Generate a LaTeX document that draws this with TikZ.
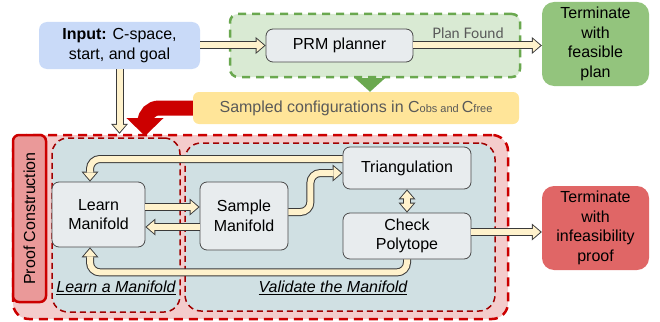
\documentclass[tikz,border=0pt]{standalone}
\usepackage{fontspec}
\setmainfont{Liberation Sans}
\newfontfamily\lato{Lato}
\usetikzlibrary{arrows.meta}

\definecolor{inputblue}{HTML}{C9DAF8}
\definecolor{planbg}{HTML}{D9EAD3}
\definecolor{plangreen}{HTML}{6AA84F}
\definecolor{okgreen}{HTML}{93C47D}
\definecolor{boxfill}{HTML}{E8ECEE}
\definecolor{boxedge}{HTML}{4A4A4A}
\definecolor{sampyellow}{HTML}{FFE599}
\definecolor{textgray}{HTML}{595959}
\definecolor{bigred}{HTML}{CC0000}
\definecolor{darkred}{HTML}{A00000}
\definecolor{pinkbg}{HTML}{F4CCCC}
\definecolor{proofpink}{HTML}{EA9999}
\definecolor{regionbg}{HTML}{D0E0E3}
\definecolor{badred}{HTML}{E06666}
\definecolor{cream}{HTML}{FFF2CC}
\definecolor{pipeedge}{HTML}{3A3A3A}

\begin{document}
\begin{tikzpicture}[x=1pt,y=-1pt,
  every node/.style={font=\fontsize{16}{19.5}\selectfont, align=center, inner sep=0pt},
  box/.style={draw=boxedge, line width=0.8pt, fill=boxfill, rounded corners=7pt},
  region/.style={draw=darkred, line width=1.5pt, dash pattern=on 6pt off 4pt, fill=regionbg, rounded corners=16pt},
  pipe/.style={line width=8pt, draw=pipeedge, rounded corners=10pt,
    -{Triangle[length=10pt,width=17pt,line width=0pt]},
    postaction={draw=cream, line width=6pt, shorten >=1.5pt,
      -{Triangle[length=7.5pt,width=13pt,line width=0pt]}}},
  twopipe/.style={line width=8pt, draw=pipeedge,
    {Triangle[length=10pt,width=17pt,line width=0pt]}-{Triangle[length=10pt,width=17pt,line width=0pt]},
    postaction={draw=cream, line width=6pt, shorten >=1.5pt, shorten <=1.5pt,
      {Triangle[length=7.5pt,width=13pt,line width=0pt]}-{Triangle[length=7.5pt,width=13pt,line width=0pt]}}},
  label/.style={font=\fontsize{16}{19.5}\selectfont\itshape}
]
%\draw[help lines] (0,0) grid[step=20] (660,321);
\useasboundingbox (0,0) rectangle (660,321);

% proof construction part
\node[draw=bigred, line width=2.5pt, dash pattern=on 9pt off 6pt, fill=pinkbg, rounded corners=16pt,
  minimum width=495pt, minimum height=184pt] (outer) at (260.5,227) {};
\node[draw=bigred, line width=2.5pt, fill=proofpink, rounded corners=6pt, rotate=90,
  minimum width=167pt, minimum height=33pt] (proof) at (29.5,218.5) {Proof Construction};
\node[region, minimum width=128pt, minimum height=174pt] (learnreg) at (116,225) {};
\node[region, minimum width=310pt, minimum height=168pt] (validreg) at (340,227) {};

% planner part
\node[draw=plangreen, line width=2.5pt, dash pattern=on 8pt off 6pt, fill=planbg, rounded corners=8pt,
  minimum width=290pt, minimum height=63pt] (plan) at (375,45.5) {};
\node[fill=inputblue, rounded corners=8pt, minimum width=161pt, minimum height=47pt] (input) at (119.5,45.5)
  {\textbf{Input:} C-space,\\start, and goal};
\node[box, minimum width=147pt, minimum height=33pt] (prm) at (339.5,45.5) {PRM planner};
\node[font=\fontsize{14.5}{17}\selectfont\lato, text=textgray] (found) at (468,33) {Plan Found};
\node[fill=okgreen, rounded corners=12pt, minimum width=107pt, minimum height=84pt] (feasible) at (595.5,44)
  {Terminate\\with\\feasible\\plan};
\node[fill=sampyellow, rounded corners=6pt, minimum width=326pt, minimum height=32pt, text=textgray] (sampled) at (356,108)
  {Sampled configurations in C{\fontsize{11}{13}\selectfont obs and }C{\fontsize{11}{13}\selectfont free}};

% boxes inside
\node[box, minimum width=93pt, minimum height=65pt] (learn) at (98.5,214.5) {Learn\\Manifold};
\node[box, minimum width=88pt, minimum height=68pt] (sample) at (244,216) {Sample\\Manifold};
\node[box, minimum width=128pt, minimum height=42pt] (triang) at (407,168) {Triangulation};
\node[box, minimum width=128pt, minimum height=46pt] (check) at (407,236) {Check\\Polytope};
\node[fill=badred, rounded corners=12pt, minimum width=107pt, minimum height=84pt] (infeasible) at (595.5,228)
  {Terminate\\with\\infeasibility\\proof};

\node[label] (learnlab) at (116,288) {\underline{Learn a Manifold}};
\node[label] (validlab) at (333,288) {\underline{Validate the Manifold}};

% arrows
\draw[pipe] (input.east) -- (prm.west);
\draw[pipe] (prm.east) -- (prm.east -| feasible.west);
\draw[pipe] (input.south) -- (input.south |- outer.north);
\draw[pipe] ([yshift=7.5pt]learn.east) -- ([yshift=7.5pt]learn.east -| sample.west);
\draw[pipe] ([yshift=-11pt]sample.west) -- ([yshift=-11pt]sample.west -| learn.east);
\draw[pipe] ([yshift=4pt]sample.east) -- ++(22,0) |- ([yshift=-5pt]triang.west);
\draw[pipe] ([yshift=9pt]triang.west) -| ([xshift=-8.5pt]learn.north);
\draw[pipe] (check.south) -- ++(0,13) -| ([xshift=-8.5pt]learn.south);
\draw[twopipe] (triang.south) -- (check.north);
\draw[pipe] ([yshift=4pt]check.east) -- ([yshift=4pt]check.east -| infeasible.west);

\coordinate (gx) at (370,0);
\coordinate (redtip) at (145,136);
\draw[plangreen, line width=12pt, -{Triangle[length=14pt,width=30pt]}] (plan.south -| gx) -- (sampled.north -| gx);
\draw[bigred, line width=15pt, rounded corners=14pt, -{Triangle[length=18pt,width=36pt]}] (sampled.west) -| (redtip);
\end{tikzpicture}
\end{document}
